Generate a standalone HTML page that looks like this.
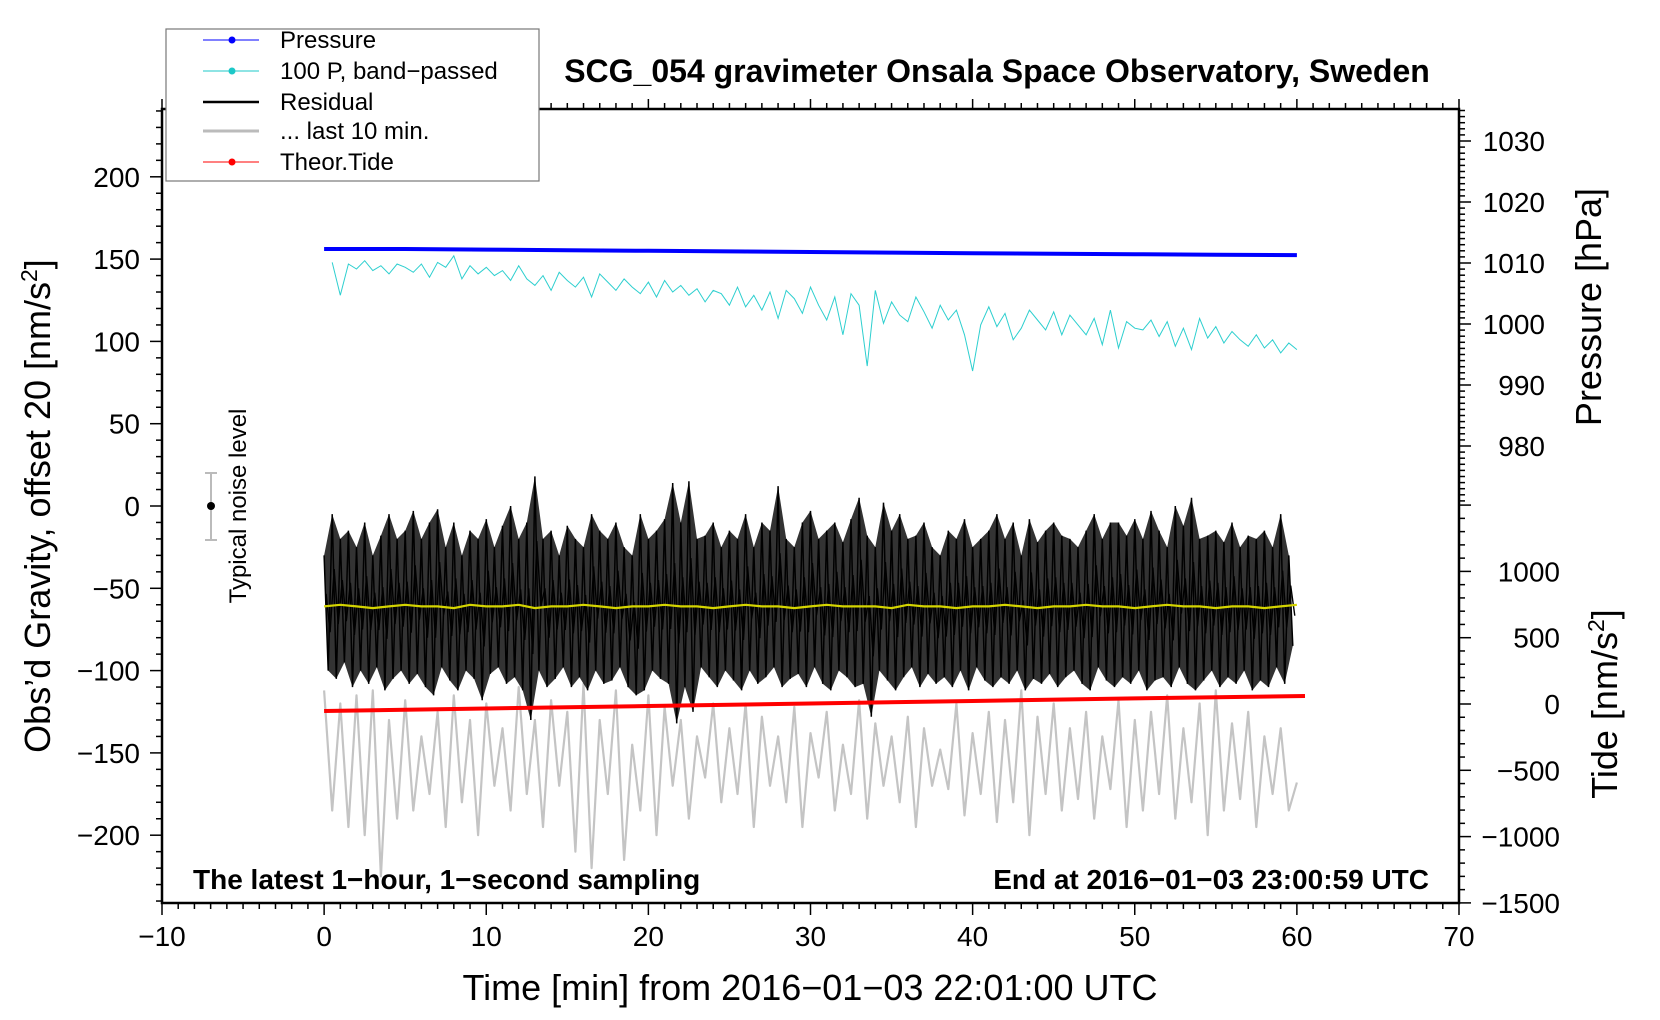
<!DOCTYPE html>
<html><head><meta charset="utf-8">
<style>
html,body{margin:0;padding:0;background:#fff;}
svg{display:block;font-family:"Liberation Sans",Arial,sans-serif;}
</style></head>
<body>
<svg id="chart" width="1660" height="1020" viewBox="0 0 1660 1020" xmlns="http://www.w3.org/2000/svg">
<rect width="1660" height="1020" fill="#fff"/>
<g id="marks"></g>
<g id="axes"></g>
<rect x="166" y="29" width="373" height="152" fill="#fff" stroke="#777" stroke-width="1.2"/>
<g><line x1="203" y1="40" x2="259" y2="40" stroke="#00f" stroke-width="1"/><circle cx="232" cy="40" r="3.5" fill="#00f"/><text x="280" y="48" font-size="24">Pressure</text></g>
<g><line x1="203" y1="71" x2="259" y2="71" stroke="#1cc8c8" stroke-width="1"/><circle cx="232" cy="71" r="3.5" fill="#1cc8c8"/><text x="280" y="79" font-size="24">100 P, band−passed</text></g>
<g><line x1="203" y1="102" x2="259" y2="102" stroke="#000" stroke-width="2.5"/><text x="280" y="110" font-size="24">Residual</text></g>
<g><line x1="203" y1="131" x2="259" y2="131" stroke="#bbb" stroke-width="3"/><text x="280" y="139" font-size="24">... last 10 min.</text></g>
<g><line x1="203" y1="162" x2="259" y2="162" stroke="#f00" stroke-width="1"/><circle cx="232" cy="162" r="3.5" fill="#f00"/><text x="280" y="170" font-size="24">Theor.Tide</text></g>
<text x="997" y="82" font-size="32" font-weight="bold" text-anchor="middle">SCG_054 gravimeter Onsala Space Observatory, Sweden</text>
<text x="193" y="889" font-size="28" font-weight="bold">The latest 1−hour, 1−second sampling</text>
<text x="1429" y="889" font-size="28" font-weight="bold" text-anchor="end">End at 2016−01−03 23:00:59 UTC</text>
<text x="810" y="1000" font-size="36" text-anchor="middle">Time [min] from 2016−01−03 22:01:00 UTC</text>
<text transform="translate(50,506) rotate(-90)" font-size="36" text-anchor="middle">Obs’d Gravity, offset 20 [nm/s<tspan font-size="23" dy="-13">2</tspan><tspan dy="13">]</tspan></text>
<text transform="translate(1601,307) rotate(-90)" font-size="36" text-anchor="middle">Pressure [hPa]</text>
<text transform="translate(1617,704) rotate(-90)" font-size="36" text-anchor="middle">Tide [nm/s<tspan font-size="23" dy="-13">2</tspan><tspan dy="13">]</tspan></text>
<g>
<line x1="211" y1="473" x2="211" y2="540" stroke="#bbb" stroke-width="2"/>
<line x1="205" y1="473" x2="217" y2="473" stroke="#bbb" stroke-width="2"/>
<line x1="205" y1="540" x2="217" y2="540" stroke="#bbb" stroke-width="2"/>
<circle cx="211" cy="506" r="4" fill="#000"/>
<text transform="translate(246,506) rotate(-90)" font-size="24" text-anchor="middle">Typical noise level</text>
</g>
</svg>
<script>
const cyanVals=[148,128,147,144,149,143,146,141,147,145,
142,147,139,148,145,152,138,146,141,145,
140,143,137,146,138,134,140,131,142,137,
133,139,127,141,136,131,138,133,129,136,
127,137,130,134,128,132,124,131,129,122,
133,121,128,119,130,114,131,126,117,133,
122,113,127,104,129,122,85,131,111,124,
116,112,127,118,108,122,113,119,104,82,
110,121,109,117,101,108,119,113,107,118,
104,116,110,104,114,98,119,96,112,108,
107,113,103,112,97,108,95,114,102,109,
99,106,101,97,104,96,101,93,99,95];
const resMax=[-30,-5,-20,-15,-25,-10,-30,-18,-5,-20,
-15,-3,-20,-10,-2,-25,-10,-30,-15,-20,
-8,-25,-12,0,-20,-10,18,-20,-15,-30,
-12,-20,-25,-5,-15,-20,-10,-25,-30,-5,
-20,-15,-8,14,-10,15,-20,-18,-10,-25,
-15,-20,-5,-25,-10,-15,12,-20,-25,-10,
-3,-20,-15,-10,-22,-8,5,-18,-25,2,
-15,-5,-20,-18,-10,-25,-30,-15,-20,-8,
-25,-20,-15,-5,-20,-10,-30,-8,-22,-15,
-10,-18,-20,-25,-15,-5,-20,-10,-10,-18,
-8,-20,-3,-15,-25,0,-12,5,-20,-18,
-15,-22,-10,-25,-18,-20,-15,-25,-5,-30];
const resMin=[-100,-105,-95,-110,-100,-108,-98,-112,-105,-100,
-108,-102,-110,-115,-98,-106,-112,-100,-105,-118,
-102,-98,-108,-104,-112,-130,-100,-110,-105,-98,
-110,-104,-112,-100,-108,-106,-98,-110,-115,-112,
-100,-105,-108,-132,-110,-125,-98,-104,-110,-100,
-106,-112,-100,-108,-104,-98,-110,-105,-102,-110,
-98,-108,-112,-100,-104,-110,-108,-128,-100,-106,
-112,-104,-98,-110,-102,-108,-104,-110,-100,-112,
-98,-106,-110,-104,-108,-100,-112,-105,-108,-102,
-110,-104,-100,-108,-112,-98,-106,-110,-104,-108,
-100,-112,-106,-104,-110,-98,-108,-112,-106,-100,
-110,-104,-108,-100,-112,-106,-110,-98,-108,-85];
const grayVals=[-112,-185,-120,-195,-115,-200,-112,-225,-130,-190,
-118,-185,-140,-175,-125,-195,-115,-180,-130,-200,
-120,-170,-135,-185,-110,-175,-130,-195,-118,-170,
-125,-210,-108,-220,-130,-175,-112,-215,-145,-185,
-115,-200,-122,-170,-130,-190,-140,-165,-120,-180,
-135,-175,-120,-195,-128,-170,-140,-180,-122,-195,
-138,-165,-125,-185,-145,-175,-118,-190,-132,-170,
-140,-180,-128,-195,-135,-170,-148,-172,-120,-188,
-138,-175,-125,-192,-130,-180,-112,-200,-128,-175,
-120,-185,-135,-178,-125,-190,-140,-172,-118,-195,
-130,-185,-125,-175,-115,-190,-135,-180,-120,-200,
-112,-185,-132,-178,-125,-195,-140,-175,-135,-185,
-168];
const pressTimes=[0,5,10,15,20,25,30,35,40,45,50,55,60];
const pressVals=[1012.3,1012.3,1012.2,1012.1,1012.0,1011.9,1011.8,1011.7,1011.6,1011.5,1011.45,1011.35,1011.3];
const tideTimes=[0,10,20,30,40,50,60.5];
const tideVals=[-53,-34,-15,4,23,42,60];
const meanVals=[-61,-60,-61,-62,-61,-60,-61,-61,-62,-60,-61,-61,-60,-62,-61,-61,-60,-61,-62,-61,-61,-60,-61,-61,-62,-61,-60,-61,-61,-62,-61,-60,-61,-61,-61,-62,-60,-61,-61,-62,-61,-61,-60,-61,-62,-61,-61,-60,-61,-61,-62,-61,-60,-61,-61,-62,-61,-61,-62,-61,-60];
const xTicks=[-10,0,10,20,30,40,50,60,70];
const yTicksL=[-200,-150,-100,-50,0,50,100,150,200];
const pTicks=[980,990,1000,1010,1020,1030];
const tTicks=[-1500,-1000,-500,0,500,1000];

const NS="http://www.w3.org/2000/svg";
const X=t=>162+(t+10)*16.2125;
const YL=v=>506-v*1.646;
const YP=p=>141+(1030-p)*6.1;
const YT=v=>704-v*0.1326;
const marks=document.getElementById('marks');
const axes=document.getElementById('axes');
function mk(tag,attrs,parent){const e=document.createElementNS(NS,tag);for(const k in attrs)e.setAttribute(k,attrs[k]);parent.appendChild(e);return e;}
function pathFrom(pts){return pts.map((p,i)=>(i?'L':'M')+p[0].toFixed(1)+' '+p[1].toFixed(1)).join('');}

let g=mk('path',{d:pathFrom(grayVals.map((v,i)=>[X(i*0.5),YL(v)])),fill:'none',stroke:'#c4c4c4','stroke-width':2.2,'stroke-linejoin':'round'},marks);



let band=[];resMax.forEach((v,i)=>band.push([X(i*0.5),YL(v)]));
for(let i=resMin.length-1;i>=0;i--)band.push([X(i*0.5+0.25),YL(resMin[i])]);
let rb=mk('path',{d:pathFrom(band)+'Z',fill:'#000','fill-opacity':0.8,stroke:'none'},marks);


let zz=[];resMax.forEach((v,i)=>{zz.push([X(i*0.5),YL(v)]);zz.push([X(i*0.5+0.25),YL(resMin[i])]);});
let rz=mk('path',{d:pathFrom(zz),fill:'none',stroke:'#000','stroke-width':1.5},marks);


let zz2=[];resMax.forEach((v,i)=>{zz2.push([X(i*0.5+0.12),YL((v*2+resMin[i])/3)]);zz2.push([X(i*0.5+0.37),YL((v+resMin[i]*2)/3)]);});
let rz2=mk('path',{d:pathFrom(zz2),fill:'none',stroke:'#000','stroke-width':1.4},marks);



let ym=mk('path',{d:pathFrom(meanVals.map((v,i)=>[X(i),YL(v)])),fill:'none',stroke:'#d4d400','stroke-width':2.2},marks);



let td=mk('path',{d:pathFrom(tideTimes.map((t,i)=>[X(t),YT(tideVals[i])])),fill:'none',stroke:'#f00','stroke-width':4},marks);



let cy=mk('path',{d:pathFrom(cyanVals.map((v,i)=>[X((i+1)*0.5),YL(v)])),fill:'none',stroke:'#2dcfcf','stroke-width':1},marks);



let pr=mk('path',{d:pathFrom(pressTimes.map((t,i)=>[X(t),YP(pressVals[i])])),fill:'none',stroke:'#00f','stroke-width':4},marks);



const L=162,R=1459,T=109,B=903;
let fr=mk('rect',{x:L,y:T,width:R-L,height:B-T,fill:'none',stroke:'#000','stroke-width':2.5},axes);


for(let t=-10;t<=70;t++){const maj=t%10===0;mk('line',{x1:X(t),x2:X(t),y1:B,y2:B+(maj?12:6),stroke:'#000','stroke-width':1.5},axes);mk('line',{x1:X(t),x2:X(t),y1:T,y2:T-(maj?10:6),stroke:'#000','stroke-width':1.5},axes);}
xTicks.forEach(t=>{const e=mk('text',{x:X(t),y:946,'font-size':28,'text-anchor':'middle'},axes);e.textContent=String(t).replace('-','−');

});
for(let v=-240;v<=240;v+=10){const maj=v%50===0;mk('line',{x1:L,x2:L-(maj?12:6),y1:YL(v),y2:YL(v),stroke:'#000','stroke-width':1.5},axes);}
yTicksL.forEach(v=>{const e=mk('text',{x:140,y:YL(v)+10,'font-size':28,'text-anchor':'end'},axes);e.textContent=String(v).replace('-','−');

});
for(let p=971;p<=1035;p++){const maj=p%10===0;mk('line',{x1:R,x2:R+(maj?12:6),y1:YP(p),y2:YP(p),stroke:'#000','stroke-width':1.5},axes);}
pTicks.forEach(p=>{const e=mk('text',{x:1545,y:YP(p)+10,'font-size':28,'text-anchor':'end'},axes);e.textContent=String(p);

});
for(let v=-1500;v<=1500;v+=100){const maj=v%500===0;mk('line',{x1:R,x2:R+(maj?12:6),y1:YT(v),y2:YT(v),stroke:'#000','stroke-width':1.5},axes);}
tTicks.forEach(v=>{const e=mk('text',{x:1560,y:YT(v)+10,'font-size':28,'text-anchor':'end'},axes);e.textContent=String(v).replace('-','−');

});
</script>
</body></html>
